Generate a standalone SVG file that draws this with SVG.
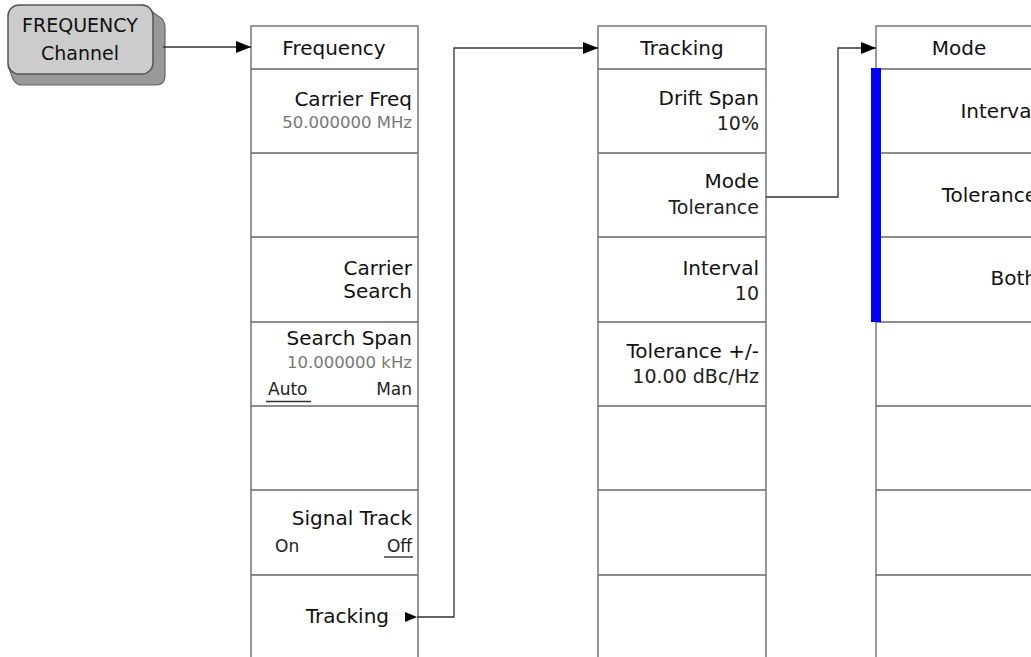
<svg xmlns="http://www.w3.org/2000/svg" width="1031" height="657" viewBox="0 0 1031 657">
<defs>
<marker id="arr" markerUnits="userSpaceOnUse" viewBox="0 0 15 12" refX="15" refY="6" markerWidth="15" markerHeight="12" orient="auto">
<path d="M0 0 L15 6 L0 12 Z" fill="#000"/>
</marker>
</defs>
<style>
.col{fill:none;stroke:#777;stroke-width:1.5}
.sep{stroke:#666;stroke-width:1.5}
.lbl{font-family:"DejaVu Sans",sans-serif;font-size:20px;fill:#111}
.ttl{font-family:"DejaVu Sans",sans-serif;font-size:20px;fill:#111;text-anchor:middle}
.r{text-anchor:end}
.val{font-family:"DejaVu Sans",sans-serif;font-size:16.5px;fill:#777}
.val2{font-family:"DejaVu Sans",sans-serif;font-size:19px;fill:#222}
.opt{font-family:"DejaVu Sans",sans-serif;font-size:17px;fill:#222}
.ul{stroke:#333;stroke-width:1.4}
.conn{fill:none;stroke:#333;stroke-width:1.3}
.btn{font-family:"DejaVu Sans",sans-serif;font-size:19px;fill:#111;text-anchor:middle}
</style>

<g id="key-frequency">
<path d="M143 5 L158 16 Q165 19 165 28 L165 76 Q165 85 156 85 L22 85 Q16 85 13 79 L8 66 Z" fill="#999" stroke="#666" stroke-width="1.2"/>
<rect x="8" y="5" width="145" height="69" rx="11" ry="11" fill="#ccc" stroke="#555" stroke-width="1.5"/>
<text class="btn" x="80" y="32">FREQUENCY</text>
<text class="btn" x="80" y="60">Channel</text>
</g>

<g id="menu-frequency">
<path class="col" d="M251 657 V26 H418 V657"/>
<line class="sep" x1="251" y1="69" x2="418" y2="69"/>
<line class="sep" x1="251" y1="153" x2="418" y2="153"/>
<line class="sep" x1="251" y1="237" x2="418" y2="237"/>
<line class="sep" x1="251" y1="322" x2="418" y2="322"/>
<line class="sep" x1="251" y1="406" x2="418" y2="406"/>
<line class="sep" x1="251" y1="490" x2="418" y2="490"/>
<line class="sep" x1="251" y1="575" x2="418" y2="575"/>
<text class="ttl" x="334" y="55">Frequency</text>
<text class="lbl r" x="412" y="106">Carrier Freq</text>
<text class="val r" x="412" y="128">50.000000 MHz</text>
<text class="lbl r" x="412" y="275">Carrier</text>
<text class="lbl r" x="412" y="298">Search</text>
<text class="lbl r" x="412" y="345">Search Span</text>
<text class="val r" x="412" y="368">10.000000 kHz</text>
<text class="opt" x="268" y="395">Auto</text>
<text class="opt r" x="412" y="395">Man</text>
<line class="ul" x1="266" y1="401.5" x2="311" y2="401.5"/>
<text class="lbl r" x="412" y="525">Signal Track</text>
<text class="opt" x="275" y="552">On</text>
<text class="opt r" x="412" y="552">Off</text>
<line class="ul" x1="384" y1="557" x2="413" y2="557"/>
<text class="lbl r" x="389" y="623">Tracking</text>
<polygon points="405,612 417,617 405,622" fill="#000"/>
</g>

<g id="menu-tracking">
<path class="col" d="M598 657 V26 H766 V657"/>
<line class="sep" x1="598" y1="69" x2="766" y2="69"/>
<line class="sep" x1="598" y1="153" x2="766" y2="153"/>
<line class="sep" x1="598" y1="237" x2="766" y2="237"/>
<line class="sep" x1="598" y1="322" x2="766" y2="322"/>
<line class="sep" x1="598" y1="406" x2="766" y2="406"/>
<line class="sep" x1="598" y1="490" x2="766" y2="490"/>
<line class="sep" x1="598" y1="575" x2="766" y2="575"/>
<text class="ttl" x="682" y="55">Tracking</text>
<text class="lbl r" x="759" y="105">Drift Span</text>
<text class="val2 r" x="759" y="130">10%</text>
<text class="lbl r" x="759" y="188">Mode</text>
<text class="val2 r" x="759" y="214" fill="#333">Tolerance</text>
<text class="lbl r" x="759" y="275">Interval</text>
<text class="val2 r" x="759" y="300">10</text>
<text class="lbl r" x="759" y="358">Tolerance +/-</text>
<text class="val2 r" x="759" y="383">10.00 dBc/Hz</text>
</g>

<g id="menu-mode">
<path class="col" d="M876 657 V26 H1043"/>
<line class="sep" x1="876" y1="69" x2="1043" y2="69"/>
<line class="sep" x1="876" y1="153" x2="1043" y2="153"/>
<line class="sep" x1="876" y1="237" x2="1043" y2="237"/>
<line class="sep" x1="876" y1="322" x2="1043" y2="322"/>
<line class="sep" x1="876" y1="406" x2="1043" y2="406"/>
<line class="sep" x1="876" y1="490" x2="1043" y2="490"/>
<line class="sep" x1="876" y1="575" x2="1043" y2="575"/>
<rect x="871" y="68" width="10" height="254" fill="#0000ff"/>
<text class="ttl" x="959" y="55">Mode</text>
<text class="lbl r" x="1037" y="118">Interval</text>
<text class="lbl r" x="1037" y="202">Tolerance</text>
<text class="lbl r" x="1037" y="285">Both</text>
</g>

<g id="connectors">
<path class="conn" d="M163 47 H251" marker-end="url(#arr)"/>
<path class="conn" d="M417 617 H454 V48 H598" marker-end="url(#arr)"/>
<path class="conn" d="M766 197 H838 V48 H876" marker-end="url(#arr)"/>
</g>
</svg>
